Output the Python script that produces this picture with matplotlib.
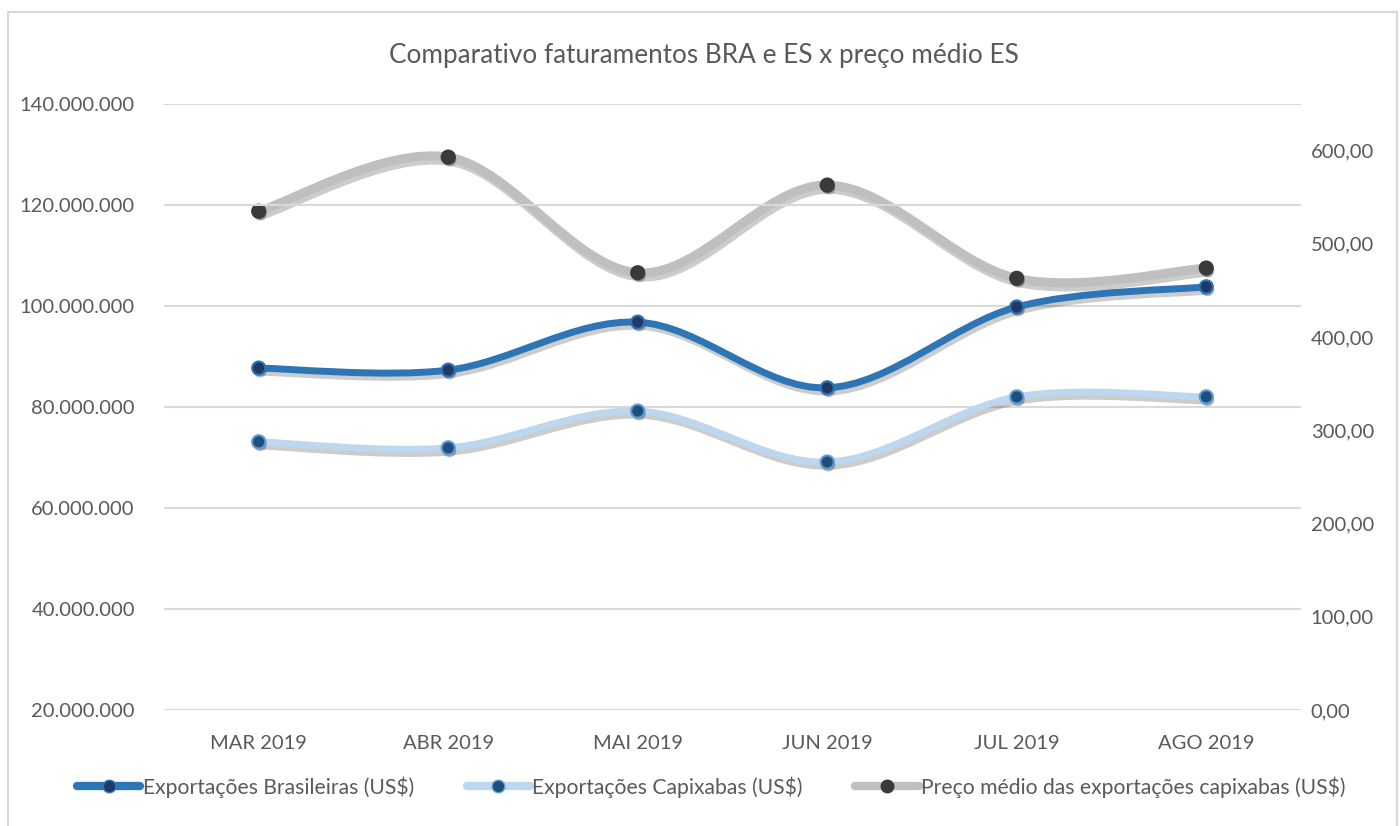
# Comparativo faturamentos BRA e ES x preco medio ES

import matplotlib
matplotlib.use("Agg")
from matplotlib import pyplot as plt
from matplotlib.path import Path
from matplotlib.patches import PathPatch, Rectangle
from matplotlib.lines import Line2D
import matplotlib.patheffects as pe
from matplotlib.ticker import FuncFormatter

# Data
meses = ["MAR 2019", "ABR 2019", "MAI 2019", "JUN 2019", "JUL 2019", "AGO 2019"]
exp_brasil = [87.7e6, 87.3e6, 96.8e6, 83.8e6, 99.8e6, 103.8e6]
exp_capixabas = [73.1e6, 71.9e6, 79.2e6, 69.1e6, 82.0e6, 82.0e6]
preco_medio = [535.0, 593.0, 469.0, 563.0, 463.0, 474.0]

TEXT = "#595959"
GRID = "#D9D9D9"

plt.rcParams["font.family"] = ["Lato", "DejaVu Sans"]
plt.rcParams["font.size"] = 14.5


def smooth_path(xs, ys):
    """Bezier path through the points, like Excel smoothed lines"""
    verts = [(xs[0], ys[0])]
    codes = [Path.MOVETO]
    n = len(xs)
    for i in range(n - 1):
        x0, y0 = (xs[i - 1], ys[i - 1]) if i > 0 else (xs[i], ys[i])
        x1, y1 = xs[i], ys[i]
        x2, y2 = xs[i + 1], ys[i + 1]
        x3, y3 = (xs[i + 2], ys[i + 2]) if i + 2 < n else (x2, y2)
        c1 = (x1 + (x2 - x0) / 6, y1 + (y2 - y0) / 6)
        c2 = (x2 - (x3 - x1) / 6, y2 - (y3 - y1) / 6)
        verts += [c1, c2, (x2, y2)]
        codes += [Path.CURVE4] * 3
    return Path(verts, codes)


def draw_series(ax, values, color, lw, mfc, mec, z):
    xs = list(range(len(values)))
    shadow = [pe.SimpleLineShadow(offset=(1.5, -3), shadow_color="black",
                                  alpha=0.2), pe.Normal()]
    patch = PathPatch(smooth_path(xs, values), fill=False, edgecolor=color,
                      linewidth=lw, capstyle="round", zorder=z,
                      path_effects=shadow)
    ax.add_patch(patch)
    ax.plot(xs, values, linestyle="none", marker="o", markersize=9.5,
            markerfacecolor=mfc, markeredgecolor=mec, markeredgewidth=1.5,
            zorder=z + 0.5,
            path_effects=[pe.SimplePatchShadow(offset=(1, -2), alpha=0.3),
                          pe.Normal()])


fig = plt.figure(figsize=(14, 8.26), dpi=100)
ax = fig.add_axes([164 / 1400, 1 - 710 / 826, (1301 - 164) / 1400, (710 - 104) / 826])
ax2 = ax.twinx()

ax.set_xlim(-0.5, len(meses) - 0.5)
ax.set_ylim(20e6, 140e6)
ax2.set_ylim(0, 650)

ax.set_yticks([20e6, 40e6, 60e6, 80e6, 100e6, 120e6, 140e6])
ax.yaxis.set_major_formatter(FuncFormatter(lambda v, p: f"{int(v):,}".replace(",", ".")))
ax2.set_yticks([0, 100, 200, 300, 400, 500, 600])
ax2.yaxis.set_major_formatter(FuncFormatter(lambda v, p: f"{v:.2f}".replace(".", ",")))
ax.set_xticks(range(len(meses)))
ax.set_xticklabels(meses)

for a in (ax, ax2):
    for s in a.spines.values():
        s.set_visible(False)
    a.tick_params(length=0, colors=TEXT, labelsize=14.5)
ax.tick_params(axis="y", pad=21)
ax.tick_params(axis="x", pad=18)
ax2.tick_params(axis="y", pad=7)
ax.grid(axis="y", color=GRID, linewidth=1.5)
ax.set_axisbelow(True)

# Series
draw_series(ax2, preco_medio, "#BFBFBF", 6.5, "#3A3A3A", "#3A3A3A", 3)
ax.set_zorder(ax2.get_zorder() + 1)
ax.patch.set_visible(False)
draw_series(ax, exp_capixabas, "#BDD7EE", 5, "#1F4E79", "#5B9BD5", 4)
draw_series(ax, exp_brasil, "#2E75B6", 5, "#203864", "#2E75B6", 5)

# Title
fig.text(0.503, 1 - 55 / 826, "Comparativo faturamentos BRA e ES x preço médio ES",
         ha="center", va="center", fontsize=18.8, color=TEXT)

# Legend
handles = [
    Line2D([], [], color="#2E75B6", linewidth=6, marker="o", markersize=9,
           markerfacecolor="#203864", markeredgecolor="#2E75B6", solid_capstyle="round"),
    Line2D([], [], color="#BDD7EE", linewidth=6, marker="o", markersize=9,
           markerfacecolor="#1F4E79", markeredgecolor="#5B9BD5", solid_capstyle="round"),
    Line2D([], [], color="#BFBFBF", linewidth=6, marker="o", markersize=9,
           markerfacecolor="#3A3A3A", markeredgecolor="#3A3A3A", solid_capstyle="round"),
]
labels = ["Exportações Brasileiras (US$)", "Exportações Capixabas (US$)",
          "Preço médio das exportações capixabas (US$)"]
fig.legend(handles, labels, loc="center", bbox_to_anchor=(0.508, 1 - 787 / 826),
           ncol=3, frameon=False, fontsize=15.2, labelcolor=TEXT,
           handlelength=3.0, handletextpad=0.1, columnspacing=2.5)

# Chart border
fig.patches.append(Rectangle((8 / 1400, -0.01), 1389 / 1400, 1 - 12 / 826 + 0.01,
                             transform=fig.transFigure, fill=False,
                             edgecolor=GRID, linewidth=1.5))

fig.savefig("out.png", dpi=100)
plt.close(fig)
